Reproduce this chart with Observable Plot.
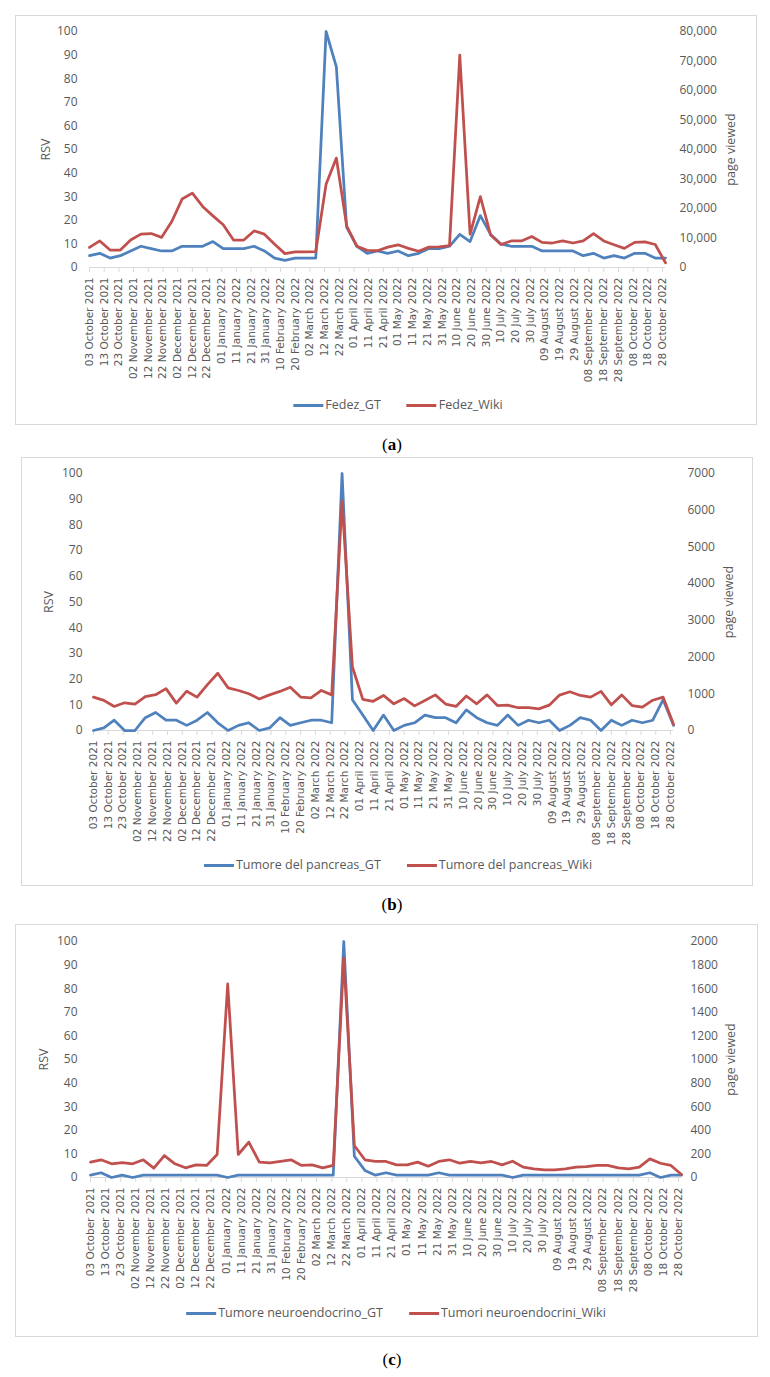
<!DOCTYPE html>
<html><head><meta charset="utf-8">
<script src="https://cdn.jsdelivr.net/npm/d3@7"></script>
<script src="https://cdn.jsdelivr.net/npm/@observablehq/plot@0.6"></script>
<style>
body{margin:0;background:#fff;width:770px;height:1377px;position:relative;overflow:hidden;}
.box{position:absolute;border:1px solid #d9d9d9;box-sizing:border-box;background:#fff;}
.box svg{position:absolute;left:0;top:0;}
.legend{position:absolute;transform:translateX(-50%);display:flex;gap:26px;white-space:nowrap;font:12.5px "Open Sans";color:#595959;align-items:center;line-height:16px;}
.legend .sw{display:inline-block;width:30px;height:3px;margin-right:2px;vertical-align:middle;}
.cap{position:absolute;width:100px;text-align:center;font:17px "Liberation Serif";color:#000;line-height:20px;}
</style></head><body>
<script>
const weeks = ["2021-10-03","2021-10-10","2021-10-17","2021-10-24","2021-10-31","2021-11-07","2021-11-14","2021-11-21","2021-11-28","2021-12-05","2021-12-12","2021-12-19","2021-12-26","2022-01-02","2022-01-09","2022-01-16","2022-01-23","2022-01-30","2022-02-06","2022-02-13","2022-02-20","2022-02-27","2022-03-06","2022-03-13","2022-03-20","2022-03-27","2022-04-03","2022-04-10","2022-04-17","2022-04-24","2022-05-01","2022-05-08","2022-05-15","2022-05-22","2022-05-29","2022-06-05","2022-06-12","2022-06-19","2022-06-26","2022-07-03","2022-07-10","2022-07-17","2022-07-24","2022-07-31","2022-08-07","2022-08-14","2022-08-21","2022-08-28","2022-09-04","2022-09-11","2022-09-18","2022-09-25","2022-10-02","2022-10-09","2022-10-16","2022-10-23","2022-10-30"];
const tickDates = ["2021-10-03","2021-10-13","2021-10-23","2021-11-02","2021-11-12","2021-11-22","2021-12-02","2021-12-12","2021-12-22","2022-01-01","2022-01-11","2022-01-21","2022-01-31","2022-02-10","2022-02-20","2022-03-02","2022-03-12","2022-03-22","2022-04-01","2022-04-11","2022-04-21","2022-05-01","2022-05-11","2022-05-21","2022-05-31","2022-06-10","2022-06-20","2022-06-30","2022-07-10","2022-07-20","2022-07-30","2022-08-09","2022-08-19","2022-08-29","2022-09-08","2022-09-18","2022-09-28","2022-10-08","2022-10-18","2022-10-28"];

const fedezGT = [5,6,4,5,7,9,8,7,7,9,9,9,11,8,8,8,9,7,4,3,4,4,4,100,85,17,9,6,7,6,7,5,6,8,8,9,14,11,22,14,10,9,9,9,7,7,7,7,5,6,4,5,4,6,6,4,4];
const fedezWiki = [6800,9000,5900,5900,9300,11300,11500,10200,15600,23200,25200,20700,17500,14500,9300,9300,12400,11300,7900,4700,5300,5300,5400,28200,37100,14100,7200,5800,5700,6900,7700,6500,5500,6900,7000,7400,72000,11300,24000,11000,7800,9000,9000,10500,8500,8300,9000,8300,9000,11500,9000,7700,6500,8500,8700,7800,1600];
const pancreasGT = [0,1,4,0,0,5,7,4,4,2,4,7,3,0,2,3,0,1,5,2,3,4,4,3,100,12,6,0,6,0,2,3,6,5,5,3,8,5,3,2,6,2,4,3,4,0,2,5,4,0,4,2,4,3,4,12,2];
const pancreasWiki = [910,820,655,755,720,920,975,1140,745,1070,910,1250,1560,1160,1090,1000,860,970,1065,1180,910,890,1090,970,6250,1730,850,795,955,727,870,670,818,970,720,655,940,727,970,680,690,620,620,590,690,965,1055,955,908,1065,700,970,680,636,825,908,170];
const neuroGT = [1,2,0,1,0,1,1,1,1,1,1,1,1,0,1,1,1,1,1,1,1,1,1,1,100,9,3,1,2,1,1,1,1,2,1,1,1,1,1,1,0,1,1,1,1,1,1,1,1,1,1,1,1,2,0,1,1];
const neuroWiki = [130,150,116,127,116,150,79,186,116,82,107,102,195,1640,195,300,130,124,136,150,102,107,82,102,1860,271,150,136,136,107,107,130,96,136,150,121,136,124,136,107,138,88,73,65,65,73,88,93,102,102,82,73,88,158,121,102,25];

const leftTicks = [0,10,20,30,40,50,60,70,80,90,100];
const rightTicksA = [0,10000,20000,30000,40000,50000,60000,70000,80000];
const rightTicksB = [0,1000,2000,3000,4000,5000,6000,7000];
const rightTicksC = [0,200,400,600,800,1000,1200,1400,1600,1800,2000];
const legendA = ["Fedez_GT","Fedez_Wiki"];
const legendB = ["Tumore del pancreas_GT","Tumore del pancreas_Wiki"];
const legendC = ["Tumore neuroendocrino_GT","Tumori neuroendocrini_Wiki"];

const BLUE = "#4F81BD", RED = "#C0504D", GREY = "#595959";
const fmtDate = d3.utcFormat("%d %B %Y");

function drawPanel(p) {
  const box = document.createElement("div");
  box.className = "box";
  Object.assign(box.style, {left: p.box[0]+"px", top: p.box[1]+"px", width: p.box[2]+"px", height: p.box[3]+"px"});
  const k = 100 / p.rightMax;
  const data = weeks.map((w, i) => ({date: new Date(w), gt: p.gt[i], wiki: p.wiki[i]}));
  const chart = Plot.plot({
    width: p.width, height: p.height,
    marginLeft: p.ml, marginRight: p.mr, marginTop: p.mt, marginBottom: p.mb,
    x: {type: "utc", domain: [new Date(weeks[0]), new Date(weeks[weeks.length - 1])]},
    y: {domain: [0, 100]},
    style: {fontFamily: '"Open Sans"', fontSize: "12px", color: GREY, background: "transparent", overflow: "visible"},
    marks: [
      Plot.ruleY([0], {stroke: "#d9d9d9"}),
      Plot.axisX(tickDates.map(d => new Date(d)), {tickFormat: fmtDate, tickRotate: -90, tickSize: 5, tickPadding: 5, stroke: "#d9d9d9", fill: GREY, fontFamily: "DejaVu Sans", fontSize: 10.5, label: null}),
      Plot.axisY(leftTicks, {anchor: "left", tickSize: 0, tickPadding: p.lpad, label: null, fill: GREY, fontSize: 12}),
      Plot.axisY(p.rightTicks.map(v => v * k), {anchor: "right", tickSize: 0, tickPadding: p.rpad, tickFormat: v => p.rfmt(Math.round(v / k)), label: null, fill: GREY, fontSize: 12}),
      Plot.text(["RSV"], {text: d => d, frameAnchor: "left", dx: p.rsvDx, rotate: -90, textAnchor: "middle", fontSize: 12.5, fill: GREY}),
      Plot.text(["page viewed"], {text: d => d, frameAnchor: "right", dx: p.pvDx, rotate: -90, textAnchor: "middle", fontSize: 12.5, fill: GREY}),
      Plot.line(data, {x: "date", y: "gt", stroke: BLUE, strokeWidth: 2.75}),
      Plot.line(data, {x: "date", y: d => d.wiki * k, stroke: RED, strokeWidth: 2.75})
    ]
  });
  box.appendChild(chart);
  const lg = document.createElement("div");
  lg.className = "legend";
  lg.style.left = p.legend[0] + "px";
  lg.style.top = p.legend[1] + "px";
  [[p.labels[0], BLUE], [p.labels[1], RED]].forEach(([t, c]) => {
    const s = document.createElement("span");
    s.innerHTML = `<span class="sw" style="background:${c}"></span>${t}`;
    lg.appendChild(s);
  });
  box.appendChild(lg);
  document.body.appendChild(box);
  const cap = document.createElement("div");
  cap.className = "cap";
  cap.style.left = (p.cap[0] - 50) + "px";
  cap.style.top = (p.cap[1] - 10) + "px";
  cap.innerHTML = `(<b>${p.letter}</b>)`;
  document.body.appendChild(cap);
}

const comma = d3.format(",");
const plain = d => String(d);

drawPanel({box: [15, 15, 742, 410], width: 740, height: 372, ml: 73, mr: 91, mt: 15, mb: 121,
  gt: fedezGT, wiki: fedezWiki, rightMax: 80000, rightTicks: rightTicksA, rfmt: comma,
  lpad: 12, rpad: 14, rsvDx: -44, pvDx: 65, legend: [382, 381], labels: legendA, cap: [392, 445], letter: "a"});
drawPanel({box: [21, 457, 732, 429], width: 730, height: 388, ml: 71, mr: 79, mt: 15, mb: 116,
  gt: pancreasGT, wiki: pancreasWiki, rightMax: 7000, rightTicks: rightTicksB, rfmt: plain,
  lpad: 11, rpad: 14, rsvDx: -45, pvDx: 55, legend: [376, 399], labels: legendB, cap: [392, 905], letter: "b"});
drawPanel({box: [15, 924, 743, 413], width: 741, height: 370, ml: 74, mr: 76, mt: 16, mb: 118,
  gt: neuroGT, wiki: neuroWiki, rightMax: 2000, rightTicks: rightTicksC, rfmt: plain,
  lpad: 13, rpad: 9, rsvDx: -47, pvDx: 49, legend: [380, 380], labels: legendC, cap: [392, 1360], letter: "c"});
</script></body></html>
